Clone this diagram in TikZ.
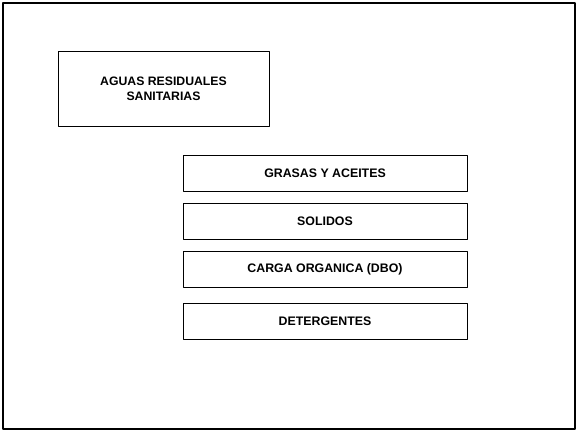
\documentclass[tikz,border=0pt]{standalone}
\usepackage{fontspec}
\setmainfont{Liberation Sans}
\usepackage{tikz}
\usetikzlibrary{positioning}

\begin{document}
\begin{tikzpicture}[
  x=1bp, y=-1bp,
  line cap=round, line join=round,
  rubro/.style={draw, line width=0.9bp, minimum width=284bp, minimum height=36bp,
    inner sep=0pt, font=\bfseries\fontsize{12.4}{14}\selectfont},
  fuente/.style={draw, line width=0.9bp, minimum width=211bp, minimum height=75bp,
    inner sep=0pt, align=center, font=\bfseries\fontsize{12.3}{15}\selectfont}
]
  \useasboundingbox (0,0) rectangle (578,431);

  % outer frame
  \draw[line width=1.6bp] (3,3) rectangle (575,429);

  % source box
  \node[fuente] (aguas) at (163.5,88.5) {AGUAS RESIDUALES\\SANITARIAS};

  % the four components
  \node[rubro] (grasas)  at (325,173.5) {GRASAS Y ACEITES};
  \node[rubro] (solidos) at (325,221)   {SOLIDOS};
  \node[rubro] (carga)   at (325,269)   {CARGA ORGANICA (DBO)};
  \node[rubro] (deterg)  at (325,321)   {DETERGENTES};
\end{tikzpicture}
\end{document}
